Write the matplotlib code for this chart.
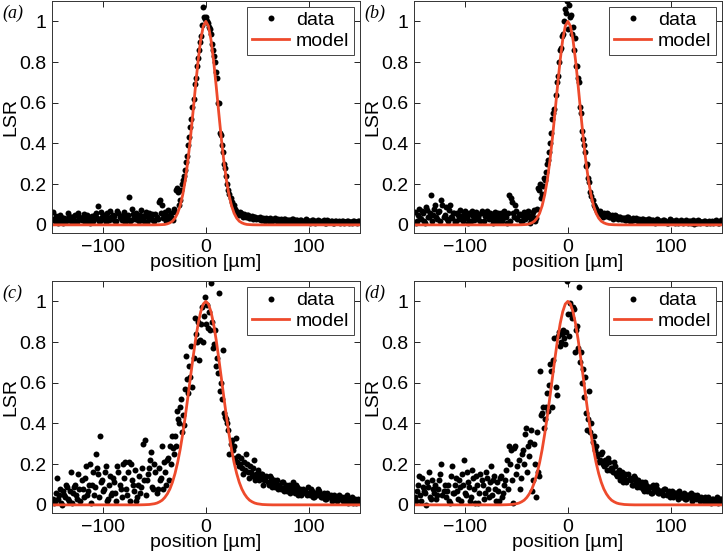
import numpy as np
import matplotlib
matplotlib.use('Agg')
import matplotlib.pyplot as plt
from matplotlib.ticker import FuncFormatter

plt.rcParams['font.family'] = ['Liberation Sans', 'DejaVu Sans']
plt.rcParams['axes.unicode_minus'] = True

# sample positions (um): two interleaved rows, 2 um pitch each
pos = np.arange(-149, 150, 2)
pos2 = np.arange(-148, 151, 2)

lsr_a = [0.065, 0.02, 0.035, 0.015, 0.04, 0.01, 0.03, 0.025, 0.045, 0.02,
         0.03, 0.05, 0.015, 0.04, 0.025, 0.055, 0.02, 0.035, 0.01, 0.045,
         0.03, 0.06, 0.095, 0.02, 0.04, 0.05, 0.015, 0.035, 0.07, 0.03,
         0.045, 0.02, 0.06, 0.035, 0.05, 0.015, 0.04, 0.135, 0.025, 0.055,
         0.03, 0.045, 0.02, 0.075, 0.035, 0.05, 0.015, 0.06, 0.04, 0.025,
         0.055, 0.03, 0.12, 0.1, 0.045, 0.02, 0.075, 0.05, 0.035, 0.08,
         0.17, 0.16, 0.12, 0.2, 0.24, 0.31, 0.39, 0.48, 0.58, 0.69,
         0.78, 0.86, 0.93, 1.07, 1.01, 1.0, 0.97, 0.94, 0.86, 0.8,
         0.72, 0.6, 0.44, 0.36, 0.28, 0.2, 0.15, 0.11, 0.1, 0.07,
         0.06, 0.065, 0.05, 0.055, 0.04, 0.05, 0.035, 0.045, 0.04, 0.03,
         0.035, 0.04, 0.025, 0.03, 0.035, 0.02, 0.03, 0.025, 0.035, 0.02,
         0.025, 0.03, 0.02, 0.03, 0.015, 0.025, 0.02, 0.03, 0.015, 0.025,
         0.02, 0.025, 0.015, 0.03, 0.02, 0.01, 0.025, 0.02, 0.015, 0.025,
         0.02, 0.015, 0.025, 0.01, 0.02, 0.015, 0.02, 0.01, 0.02, 0.015,
         0.01, 0.02, 0.015, 0.02, 0.01, 0.015, 0.02, 0.015, 0.01, 0.02]
lsr_a2 = [0.03, 0.045, 0.01, 0.05, 0.025, 0.035, 0.02, 0.06, 0.03, 0.015,
          0.045, 0.02, 0.06, 0.03, 0.04, 0.015, 0.05, 0.025, 0.04, 0.02,
          0.05, 0.035, 0.02, 0.065, 0.03, 0.045, 0.06, 0.025, 0.04, 0.05,
          0.02, 0.07, 0.04, 0.025, 0.065, 0.03, 0.05, 0.02, 0.08, 0.035,
          0.06, 0.025, 0.05, 0.035, 0.02, 0.065, 0.04, 0.03, 0.055, 0.02,
          0.04, 0.11, 0.06, 0.035, 0.065, 0.045, 0.03, 0.06, 0.025, 0.065,
          0.18, 0.1, 0.17, 0.22, 0.27, 0.34, 0.43, 0.52, 0.62, 0.72,
          0.82, 0.9, 0.98, 1.02, 1.02, 0.99, 0.96, 0.89, 0.83, 0.75,
          0.6, 0.45, 0.39, 0.3, 0.24, 0.17, 0.13, 0.1, 0.08, 0.06,
          0.05, 0.06, 0.04, 0.045, 0.05, 0.035, 0.04, 0.03, 0.04, 0.035,
          0.03, 0.025, 0.035, 0.02, 0.03, 0.035, 0.02, 0.03, 0.025, 0.03,
          0.02, 0.025, 0.03, 0.02, 0.025, 0.015, 0.03, 0.02, 0.025, 0.02,
          0.025, 0.015, 0.02, 0.025, 0.015, 0.02, 0.025, 0.01, 0.02, 0.015,
          0.015, 0.02, 0.01, 0.025, 0.015, 0.02, 0.01, 0.02, 0.015, 0.02,
          0.02, 0.01, 0.015, 0.02, 0.015, 0.01, 0.02, 0.015, 0.02, 0.015]

lsr_b = [0.065, 0.02, 0.08, 0.03, 0.06, 0.01, 0.075, 0.04, 0.145, 0.05,
         0.1, 0.03, 0.07, 0.12, 0.04, 0.09, 0.02, 0.1, 0.035, 0.06,
         0.02, 0.05, 0.075, 0.03, 0.06, 0.04, 0.01, 0.055, 0.07, 0.025,
         0.065, 0.04, 0.02, 0.06, 0.045, 0.07, 0.03, 0.055, 0.01, 0.065,
         0.04, 0.02, 0.06, 0.035, 0.05, 0.01, 0.145, 0.13, 0.06, 0.1,
         0.03, 0.055, 0.02, 0.065, 0.04, 0.07, 0.01, 0.05, 0.075, 0.035,
         0.18, 0.2, 0.15, 0.23, 0.26, 0.32, 0.4, 0.52, 0.57, 0.7,
         0.8, 0.87, 0.94, 1.06, 1.1, 1.08, 1.03, 0.97, 0.92, 0.78,
         0.7, 0.55, 0.42, 0.36, 0.3, 0.21, 0.14, 0.1, 0.08, 0.06,
         0.07, 0.05, 0.06, 0.045, 0.055, 0.04, 0.05, 0.035, 0.045, 0.03,
         0.04, 0.03, 0.035, 0.025, 0.04, 0.02, 0.035, 0.03, 0.025, 0.03,
         0.02, 0.03, 0.025, 0.015, 0.03, 0.02, 0.025, 0.01, 0.03, 0.02,
         0.015, 0.025, 0.02, 0.01, 0.03, 0.015, 0.02, 0.025, 0.01, 0.02,
         0.02, 0.015, 0.025, 0.01, 0.02, 0.015, 0.005, 0.02, 0.025, 0.01,
         0.015, 0.02, 0.01, 0.02, 0.015, 0.01, 0.02, 0.015, 0.01, 0.025]
lsr_b2 = [0.01, 0.05, 0.035, 0.07, 0.02, 0.09, 0.04, 0.06, 0.02, 0.08,
          0.04, 0.065, 0.02, 0.1, 0.05, 0.03, 0.075, 0.04, 0.06, 0.015,
          0.06, 0.03, 0.045, 0.02, 0.07, 0.035, 0.06, 0.02, 0.045, 0.06,
          0.03, 0.055, 0.07, 0.02, 0.05, 0.04, 0.06, 0.03, 0.05, 0.02,
          0.06, 0.045, 0.02, 0.07, 0.04, 0.06, 0.02, 0.11, 0.04, 0.07,
          0.05, 0.02, 0.045, 0.03, 0.06, 0.04, 0.03, 0.065, 0.02, 0.08,
          0.17, 0.13, 0.19, 0.22, 0.3, 0.36, 0.45, 0.55, 0.64, 0.73,
          0.86, 0.93, 1.0, 1.04, 0.96, 1.02, 0.94, 0.86, 0.78, 0.72,
          0.58, 0.46, 0.39, 0.29, 0.23, 0.16, 0.12, 0.09, 0.07, 0.06,
          0.055, 0.04, 0.05, 0.06, 0.04, 0.045, 0.03, 0.05, 0.035, 0.04,
          0.03, 0.035, 0.025, 0.04, 0.02, 0.03, 0.025, 0.035, 0.02, 0.025,
          0.03, 0.015, 0.025, 0.03, 0.02, 0.025, 0.015, 0.02, 0.025, 0.015,
          0.02, 0.025, 0.01, 0.02, 0.025, 0.015, 0.01, 0.02, 0.015, 0.025,
          0.01, 0.02, 0.015, 0.02, 0.01, 0.025, 0.015, 0.01, 0.02, 0.015,
          0.02, 0.01, 0.015, 0.01, 0.02, 0.015, 0.025, 0.01, 0.015, 0.02]

lsr_c = [0.03, 0.02, 0.13, 0.05, 0.01, 0.07, 0.04, 0.09, 0.02, 0.16,
         0.06, 0.1, 0.03, 0.08, 0.12, 0.04, 0.19, 0.07, 0.2, 0.1,
         0.05, 0.25, 0.15, 0.34, 0.12, 0.08, 0.19, 0.03, 0.14, 0.06,
         0.11, 0.02, 0.16, 0.08, 0.2, 0.21, 0.05, 0.21, 0.2, 0.1,
         0.17, 0.04, 0.14, 0.09, 0.3, 0.32, 0.12, 0.18, 0.26, 0.08,
         0.16, 0.08, 0.12, 0.29, 0.21, 0.1, 0.23, 0.29, 0.34, 0.25,
         0.29, 0.42, 0.48, 0.36, 0.39, 0.73, 0.55, 0.63, 0.58, 0.92,
         0.8, 0.71, 0.89, 0.8, 1.02, 0.98, 0.95, 1.09, 0.77, 0.86,
         0.72, 1.04, 0.6, 0.76, 0.43, 0.4, 0.25, 0.32, 0.29, 0.33,
         0.24, 0.2, 0.18, 0.21, 0.25, 0.16, 0.19, 0.14, 0.22, 0.15,
         0.17, 0.13, 0.15, 0.12, 0.14, 0.1, 0.13, 0.11, 0.09, 0.12,
         0.1, 0.08, 0.11, 0.09, 0.07, 0.1, 0.08, 0.11, 0.06, 0.09,
         0.07, 0.05, 0.08, 0.06, 0.09, 0.05, 0.07, 0.04, 0.06, 0.08,
         0.05, 0.04, 0.06, 0.03, 0.05, 0.04, 0.02, 0.05, 0.03, 0.04,
         0.03, 0.02, 0.04, 0.05, 0.02, 0.03, 0.01, 0.03, 0.02, 0.015]
lsr_c2 = [0.01, 0.06, 0.03, 0.08, 0.0, 0.05, 0.1, 0.03, 0.07, 0.01,
          0.09, 0.05, 0.15, 0.02, 0.08, 0.13, 0.05, 0.1, 0.01, 0.16,
          0.09, 0.18, 0.04, 0.11, 0.07, 0.16, 0.02, 0.1, 0.05, 0.13,
          0.06, 0.19, 0.1, 0.04, 0.13, 0.08, 0.16, 0.02, 0.12, 0.07,
          0.02, 0.1, 0.06, 0.18, 0.12, 0.05, 0.15, 0.22, 0.09, 0.2,
          0.06, 0.18, 0.13, 0.08, 0.16, 0.22, 0.12, 0.2, 0.28, 0.34,
          0.46, 0.4, 0.52, 0.44, 0.57, 0.62, 0.68, 0.78, 0.72, 0.84,
          0.9, 0.81, 0.97, 0.93, 0.89, 0.87, 0.86, 0.9, 0.79, 0.68,
          0.65, 0.56, 0.52, 0.45, 0.42, 0.37, 0.3, 0.27, 0.23, 0.21,
          0.19, 0.23, 0.15, 0.17, 0.2, 0.13, 0.16, 0.18, 0.12, 0.14,
          0.12, 0.15, 0.1, 0.13, 0.11, 0.14, 0.09, 0.12, 0.1, 0.08,
          0.09, 0.11, 0.07, 0.1, 0.08, 0.06, 0.09, 0.07, 0.1, 0.05,
          0.08, 0.06, 0.07, 0.05, 0.06, 0.08, 0.04, 0.06, 0.05, 0.07,
          0.04, 0.05, 0.03, 0.06, 0.04, 0.05, 0.03, 0.04, 0.02, 0.05,
          0.04, 0.02, 0.03, 0.01, 0.03, 0.04, 0.02, 0.01, 0.03, 0.02]

lsr_d = [0.04, 0.07, 0.14, 0.02, 0.09, 0.06, 0.11, 0.16, 0.03, 0.08,
         0.1, 0.05, 0.12, 0.2, 0.07, 0.04, 0.1, 0.01, 0.19, 0.06,
         0.13, 0.03, 0.09, 0.15, 0.22, 0.05, 0.11, 0.02, 0.17, 0.08,
         0.14, 0.01, 0.15, 0.1, 0.06, 0.13, 0.04, 0.19, 0.12, 0.08,
         0.11, 0.02, 0.14, 0.06, 0.12, 0.22, 0.29, 0.27, 0.01, 0.29,
         0.19, 0.08, 0.25, 0.2, 0.38, 0.29, 0.31, 0.07, 0.3, 0.04,
         0.16, 0.66, 0.45, 0.38, 0.48, 0.46, 0.69, 0.48, 0.82, 0.54,
         0.85, 0.8, 0.86, 0.79, 1.1, 0.83, 0.94, 0.97, 0.75, 0.88,
         1.07, 0.75, 0.67, 0.63, 0.37, 0.56, 0.4, 0.34, 0.29, 0.25,
         0.22, 0.26, 0.19, 0.2, 0.23, 0.17, 0.18, 0.21, 0.15, 0.16,
         0.12, 0.16, 0.13, 0.11, 0.15, 0.12, 0.1, 0.13, 0.09, 0.11,
         0.1, 0.08, 0.11, 0.07, 0.09, 0.06, 0.1, 0.07, 0.08, 0.06,
         0.07, 0.05, 0.08, 0.06, 0.04, 0.07, 0.05, 0.06, 0.03, 0.05,
         0.04, 0.06, 0.03, 0.05, 0.04, 0.02, 0.05, 0.03, 0.04, 0.02,
         0.03, 0.04, 0.02, 0.03, 0.01, 0.03, 0.02, 0.04, 0.02, 0.03]
lsr_d2 = [0.02, 0.1, 0.05, 0.13, 0.07, 0.0, 0.09, 0.04, 0.12, 0.06,
          0.03, 0.08, 0.15, 0.05, 0.1, 0.07, 0.02, 0.14, 0.06, 0.1,
          0.07, 0.12, 0.02, 0.1, 0.06, 0.16, 0.09, 0.04, 0.13, 0.01,
          0.1, 0.06, 0.12, 0.03, 0.16, 0.08, 0.11, 0.05, 0.14, 0.02,
          0.07, 0.13, 0.04, 0.1, 0.17, 0.08, 0.2, 0.12, 0.28, 0.15,
          0.22, 0.13, 0.27, 0.35, 0.16, 0.24, 0.37, 0.12, 0.2, 0.36,
          0.14, 0.44, 0.48, 0.42, 0.55, 0.59, 0.66, 0.71, 0.58, 0.83,
          0.78, 0.84, 0.82, 0.85, 0.94, 0.99, 0.92, 0.96, 0.86, 0.77,
          0.7, 0.6, 0.53, 0.45, 0.42, 0.36, 0.31, 0.27, 0.24, 0.21,
          0.25, 0.2, 0.22, 0.17, 0.21, 0.18, 0.16, 0.19, 0.14, 0.17,
          0.14, 0.11, 0.15, 0.12, 0.13, 0.1, 0.14, 0.11, 0.12, 0.09,
          0.11, 0.07, 0.1, 0.08, 0.09, 0.06, 0.08, 0.1, 0.06, 0.07,
          0.06, 0.08, 0.05, 0.07, 0.06, 0.04, 0.06, 0.05, 0.07, 0.04,
          0.05, 0.03, 0.05, 0.04, 0.06, 0.03, 0.04, 0.05, 0.03, 0.04,
          0.02, 0.03, 0.04, 0.02, 0.03, 0.02, 0.03, 0.01, 0.03, 0.02]

# model profiles, one side (symmetric about 0)
model_ab_x = [0, 2.5, 5, 7.5, 10, 12.5, 15, 17.5, 20, 22.5, 25, 27.5, 30,
              32.5, 35, 37.5, 40, 45, 50, 150]
model_ab_y = [1, .977, .910, .808, .685, .554, .427, .314, .220, .148, .094,
              .057, .033, .018, .010, .005, .002, .0005, 0, 0]
model_cd_x = [0, 2.5, 5, 7.5, 10, 12.5, 15, 17.5, 20, 22.5, 25, 27.5, 30,
              32.5, 35, 37.5, 40, 42.5, 45, 47.5, 50, 55, 60, 65, 150]
model_cd_y = [1, .987, .949, .890, .812, .722, .626, .529, .435, .349, .272,
              .207, .154, .111, .078, .054, .036, .023, .015, .009, .0055,
              .0018, .0006, 0, 0]

panels = ['(a)', '(b)', '(c)', '(d)']
data = [(lsr_a, lsr_a2), (lsr_b, lsr_b2), (lsr_c, lsr_c2), (lsr_d, lsr_d2)]
models = [(model_ab_x, model_ab_y), (model_ab_x, model_ab_y),
          (model_cd_x, model_cd_y), (model_cd_x, model_cd_y)]
xticks = [-100, 0, 100]
yticks = [0, 0.2, 0.4, 0.6, 0.8, 1]

W, H = 724, 559
rects = [(51.7, 1), (413.7, 1), (51.7, 281), (413.7, 281)]
fs = 14

fig = plt.figure(figsize=(7.24, 5.59), dpi=100)
for k in range(4):
    x0, y0 = rects[k]
    ax = fig.add_axes([x0 / W, 1 - (y0 + 232) / H, 308.3 / W, 232 / H])
    mx = np.array(models[k][0])
    my = np.array(models[k][1])
    mx = np.concatenate([-mx[:0:-1], mx])
    my = np.concatenate([my[:0:-1], my])
    px = np.concatenate([pos, pos2])
    py = np.concatenate([data[k][0], data[k][1]])
    ax.plot(px, py, 'o', color='black', ms=4.3, mew=0, label='data')
    ax.plot(mx, my, color='#ee4a2c', lw=2, label='model')
    ax.set_xlim(-150, 150)
    ax.set_ylim(-0.04, 1.1)
    ax.set_xticks(xticks)
    ax.set_yticks(yticks)
    ax.yaxis.set_major_formatter(FuncFormatter(lambda v, p: '%g' % v))
    ax.tick_params(direction='in', top=True, right=True, labelsize=fs,
                   length=4, width=0.6, pad=4)
    for s in ax.spines.values():
        s.set_linewidth(0.7)
        s.set_color('#333333')
    ax.set_xlabel('position [µm]', fontsize=fs, labelpad=-1)
    ax.set_ylabel('LSR', fontsize=fs)
    ax.yaxis.set_label_coords(-0.104, 0.5)
    leg = ax.legend(loc='upper right', numpoints=1, fontsize=fs,
                    fancybox=False, framealpha=1, edgecolor='#444444',
                    borderaxespad=0.3, handlelength=1.9, handletextpad=0.35,
                    labelspacing=0.15, borderpad=0.25)
    leg.get_frame().set_linewidth(0.7)
    fig.text((x0 - 49) / W, 1 - (y0 + 12) / H, panels[k],
             family=['Liberation Serif', 'DejaVu Serif'], style='italic',
             fontsize=13, va='center', ha='left')

fig.savefig('out.png', dpi=100)
